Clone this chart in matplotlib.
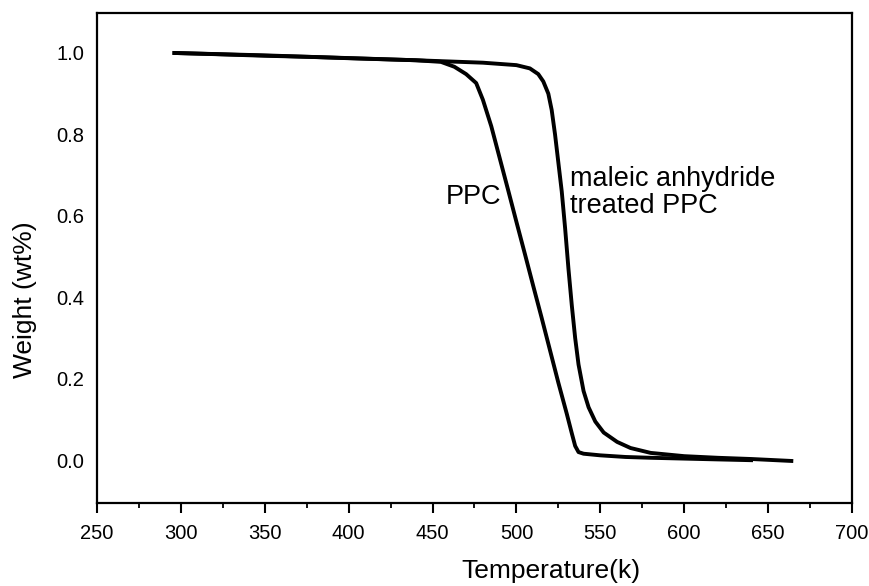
import matplotlib
matplotlib.use("Agg")
import matplotlib.pyplot as plt
from matplotlib.ticker import MultipleLocator

plt.rcParams['font.family'] = ['Liberation Sans', 'DejaVu Sans']

# TGA curves: temperature (K) vs. residual weight fraction
ppc_T = [295, 320, 350, 380, 410, 440, 455, 463, 470, 476, 480, 485, 490,
         495, 500, 505, 510, 515, 520, 525, 530, 533, 535, 537, 540, 550,
         565, 580, 600, 620, 641]
ppc_W = [1.000, 0.997, 0.993, 0.990, 0.986, 0.982, 0.978, 0.966, 0.948,
         0.926, 0.885, 0.820, 0.742, 0.664, 0.585, 0.507, 0.428, 0.350,
         0.270, 0.190, 0.114, 0.066, 0.035, 0.020, 0.016, 0.012, 0.008,
         0.006, 0.004, 0.002, 0.000]

ma_T = [295, 350, 400, 440, 460, 480, 500, 508, 513, 516, 519, 521, 523,
        525, 527, 529, 531, 533, 535, 537, 540, 543, 547, 552, 560, 568,
        580, 600, 620, 640, 665]
ma_W = [1.000, 0.994, 0.987, 0.982, 0.979, 0.976, 0.970, 0.962, 0.948,
        0.930, 0.900, 0.860, 0.800, 0.730, 0.660, 0.570, 0.470, 0.380,
        0.300, 0.235, 0.170, 0.130, 0.095, 0.068, 0.045, 0.030, 0.018,
        0.010, 0.006, 0.003, -0.002]

x_ticks = [250, 300, 350, 400, 450, 500, 550, 600, 650, 700]
y_ticks = [0.0, 0.2, 0.4, 0.6, 0.8, 1.0]

fig = plt.figure(figsize=(8.7, 5.86), dpi=100)
ax = fig.add_axes([97 / 870, 1 - 503 / 586, 755 / 870, 490 / 586])

ax.plot(ppc_T, ppc_W, color='black', lw=2.8, solid_capstyle='butt',
        solid_joinstyle='round')
ax.plot(ma_T, ma_W, color='black', lw=2.8, solid_capstyle='butt',
        solid_joinstyle='round')

ax.set_xlim(250, 700)
ax.set_ylim(-0.105, 1.098)
ax.set_xticks(x_ticks)
ax.set_yticks(y_ticks)
ax.set_yticklabels([f"{v:.1f}" for v in y_ticks])
ax.xaxis.set_minor_locator(MultipleLocator(25))

for s in ax.spines.values():
    s.set_linewidth(1.6)

ax.tick_params(axis='x', which='major', direction='out', length=7.5,
               width=1.5, labelsize=14.5, pad=7.5)
ax.tick_params(axis='x', which='minor', direction='out', length=3.8,
               width=1.3)
ax.tick_params(axis='y', which='both', length=0, labelsize=14.5, pad=9)

ax.set_xlabel('Temperature(k)', fontsize=19)
ax.xaxis.set_label_coords(0.601, -0.114)
ax.set_ylabel('Weight (wt%)', fontsize=19)
ax.yaxis.set_label_coords(-0.079, 0.414)

ax.text(474.7, 0.646, 'PPC', fontsize=19.5, ha='center', va='center')
ax.text(531.9, 0.658, 'maleic anhydride\ntreated PPC', fontsize=19.5,
        ha='left', va='center', linespacing=1.05)

fig.savefig('out.png', dpi=100)
